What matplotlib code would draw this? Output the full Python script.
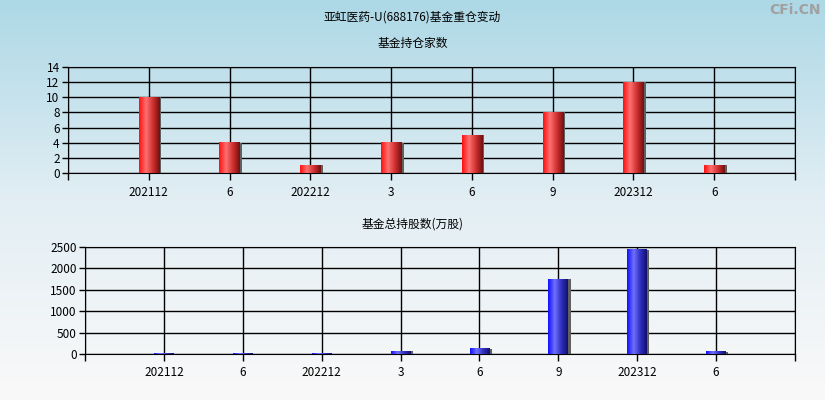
import numpy as np
import matplotlib
matplotlib.use("Agg")
import matplotlib.pyplot as plt
from matplotlib.colors import LinearSegmentedColormap

plt.rcParams['font.family'] = ['Noto Sans CJK SC', 'DejaVu Sans']

# data
labels = ["202112", "6", "202212", "3", "6", "9", "202312", "6"]
fund_count = [10, 4, 1, 4, 5, 8, 12, 1]
fund_shares = [8, 6, 5, 70, 117, 1752, 2430, 47]

fig = plt.figure(figsize=(8.25, 4), dpi=100)

# background gradient
bg = fig.add_axes([0, 0, 1, 1], zorder=-10)
grad = np.linspace(0, 1, 256).reshape(-1, 1)
bg_cmap = LinearSegmentedColormap.from_list("bg", ["#add8e6", "#e2eef4", "#faf9f9"])
bg.imshow(grad, aspect='auto', cmap=bg_cmap, extent=(0, 1, 0, 1))
bg.axis('off')

fig.text(0.5, 0.957, "亚虹医药-U(688176)基金重仓变动", ha='center', va='center', fontsize=8.5)
fig.text(0.5, 0.892, "基金持仓家数", ha='center', va='center', fontsize=8.5)
fig.text(0.5, 0.44, "基金总持股数(万股)", ha='center', va='center', fontsize=8.5)
fig.text(0.995, 0.975, "CFi.CN", ha='right', va='center', fontsize=10,
         color='#a0a0a0', fontweight='bold', family='DejaVu Sans')

red_cmap = LinearSegmentedColormap.from_list("r", ["#ff1010", "#ff7070", "#d03030", "#701010"])
blue_cmap = LinearSegmentedColormap.from_list("b", ["#1010ff", "#7070ff", "#3030c0", "#101070"])


def draw(ax, vals, ymax, ystep, cmap):
    x = np.arange(len(vals))
    ax.set_xlim(-1, len(vals))
    ax.set_ylim(0, ymax)
    ax.patch.set_alpha(0)
    ax.set_yticks(np.arange(0, ymax + 1, ystep))
    ax.set_xticks(np.arange(-1, len(vals) + 1), minor=False)
    ax.set_xticklabels([""] + labels + [""])
    ax.grid(True, color='black', linewidth=1)
    ax.set_axisbelow(True)
    ax.tick_params(axis='both', direction='out', length=4, width=1,
                   labelsize=8.5, colors='black', pad=2)
    ax.tick_params(axis='x', length=5, pad=4)
    for s in ax.spines.values():
        s.set_color('black')
    bars = ax.bar(x, vals, 0.25, color='none', zorder=3)
    g = np.linspace(0, 1, 64).reshape(1, -1)
    for b in bars:
        x0, w, h = b.get_x(), b.get_width(), b.get_height()
        ax.bar(x0 + w / 2 + 0.03, h, w, color='#606060', zorder=2)
        ax.imshow(g, aspect='auto', cmap=cmap, extent=(x0, x0 + w, 0, h), zorder=3)
    ax.set_aspect('auto')


ax1 = fig.add_axes([0.0824, 0.5675, 0.8812, 0.265])
draw(ax1, fund_count, 14, 2, red_cmap)

ax2 = fig.add_axes([0.103, 0.115, 0.8606, 0.2675])
draw(ax2, fund_shares, 2500, 500, blue_cmap)

fig.savefig("out.png", dpi=100)
